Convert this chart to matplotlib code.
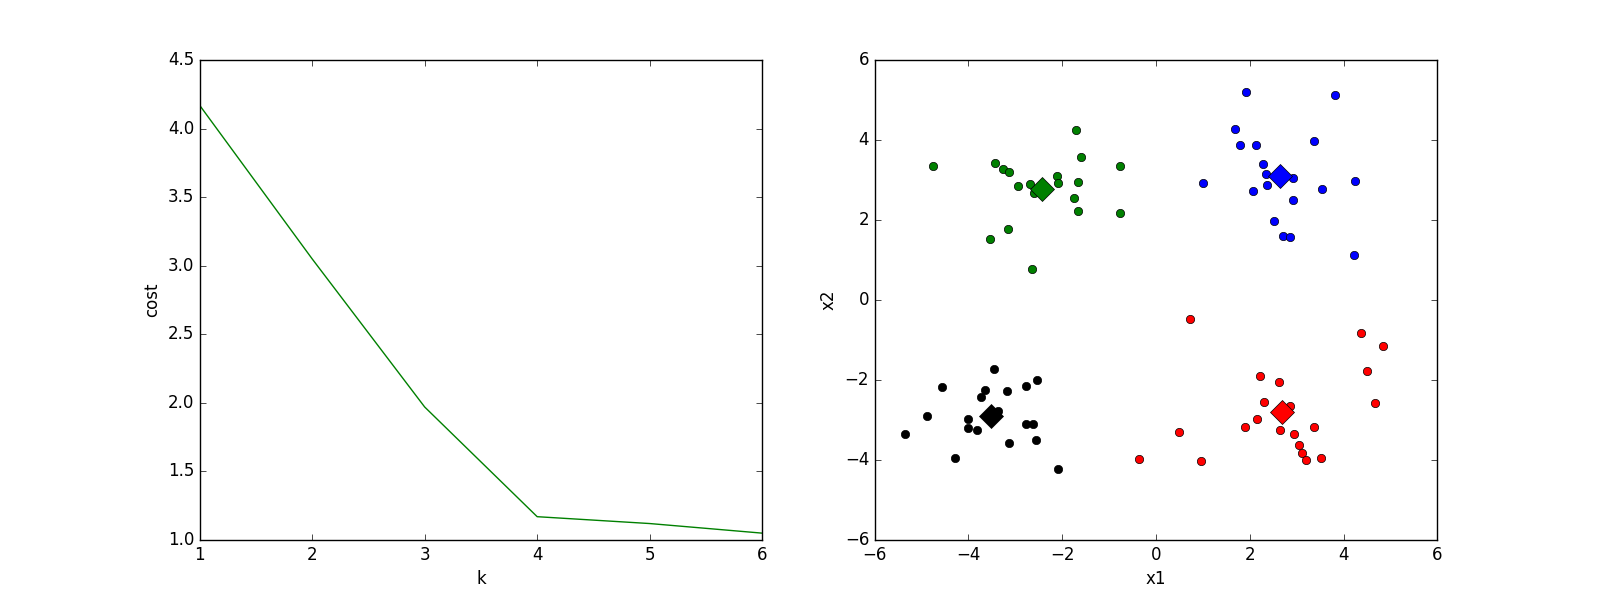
import matplotlib
matplotlib.use('Agg')
import matplotlib.pyplot as plt
import numpy as np

plt.style.use('classic')

# elbow curve
k_vals = [1, 2, 3, 4, 5, 6]
cost = [4.17, 3.05, 1.97, 1.17, 1.12, 1.05]

# clusters
green_x = [-1.71, -1.59, -4.76, -0.77, -3.44, -3.27, -3.14, -2.95, -2.69, -2.6,
           -2.11, -2.09, -1.67, -1.75, -1.67, -0.77, -3.16, -3.54, -2.65]
green_y = [4.24, 3.57, 3.34, 3.34, 3.42, 3.27, 3.19, 2.84, 2.91, 2.67,
           3.09, 2.93, 2.94, 2.54, 2.22, 2.17, 1.77, 1.52, 0.77]

blue_x = [1.91, 3.81, 1.68, 3.36, 1.80, 2.13, 2.28, 2.35, 2.92, 1.0,
          4.24, 2.36, 3.55, 2.06, 2.92, 2.51, 2.70, 2.86, 4.22]
blue_y = [5.19, 5.12, 4.27, 3.97, 3.87, 3.87, 3.39, 3.15, 3.04, 2.92,
          2.97, 2.87, 2.77, 2.72, 2.49, 1.97, 1.59, 1.57, 1.12]

black_x = [-3.46, -2.54, -4.57, -3.65, -3.18, -2.78, -3.73, -3.38, -4.89, -4.0,
           -4.0, -3.82, -2.77, -2.62, -5.35, -3.14, -2.56, -4.29, -2.09]
black_y = [-1.73, -2.01, -2.18, -2.26, -2.28, -2.16, -2.43, -2.78, -2.91, -2.98,
           -3.21, -3.26, -3.11, -3.11, -3.36, -3.58, -3.51, -3.96, -4.23]

red_x = [0.72, 4.38, 4.85, 4.49, 4.68, 2.21, 2.62, 2.30, 2.86, 2.15,
         1.89, 2.64, 3.38, 2.95, 3.06, 3.11, 3.19, 3.51, 0.49, 0.95, -0.37]
red_y = [-0.48, -0.83, -1.16, -1.78, -2.58, -1.91, -2.06, -2.55, -2.66, -2.98,
         -3.18, -3.26, -3.18, -3.36, -3.63, -3.83, -4.01, -3.96, -3.31, -4.03, -3.98]

# centroids
cent_x = [-2.44, 2.65, -3.53, 2.68]
cent_y = [2.77, 3.10, -2.90, -2.80]
cent_c = ['g', 'b', 'k', 'r']

fig, (ax1, ax2) = plt.subplots(1, 2, figsize=(15.97, 6), dpi=100)

ax1.plot(k_vals, cost, 'g')
ax1.set_xlabel('k')
ax1.set_ylabel('cost')
ax1.set_xlim(1, 6)
ax1.set_ylim(1.0, 4.5)

ax2.plot(green_x, green_y, 'go')
ax2.plot(blue_x, blue_y, 'bo')
ax2.plot(black_x, black_y, 'ko')
ax2.plot(red_x, red_y, 'ro')
for cx, cy, c in zip(cent_x, cent_y, cent_c):
    ax2.plot(cx, cy, c + 'D', markersize=12)
ax2.set_xlabel('x1')
ax2.set_ylabel('x2')
ax2.set_xlim(-6, 6)
ax2.set_ylim(-6, 6)

plt.savefig('out.png', dpi=100)
